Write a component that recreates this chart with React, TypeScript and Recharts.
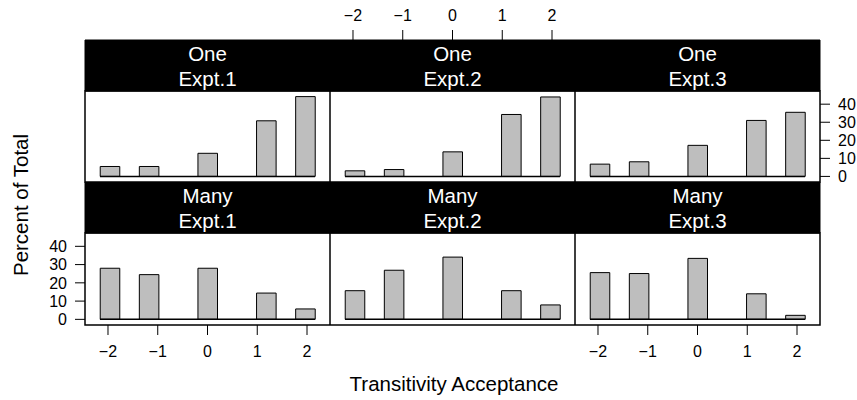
import { BarChart, Bar, XAxis, YAxis, ReferenceArea, ReferenceLine } from "recharts";

// response levels and the histogram bin each one falls in
const levels = [-2, -1, 0, 1, 2];
const binMids = [-1.964, -1.178, 0, 1.178, 1.964];
const binWidth = 0.393;
const binRange = [-2.16, 2.16];
const yTicks = [0, 10, 20, 30, 40];

const groups = ["One", "Many"];
const expts = ["Expt.1", "Expt.2", "Expt.3"];

// percent of total, per panel
const oneExpt1 = [5.5, 5.5, 12.8, 30.8, 44.2];
const oneExpt2 = [3.1, 3.8, 13.6, 34.3, 44.0];
const oneExpt3 = [6.8, 8.1, 17.2, 31.0, 35.5];
const manyExpt1 = [28.0, 24.5, 28.0, 14.4, 5.7];
const manyExpt2 = [15.7, 26.9, 34.1, 15.7, 7.9];
const manyExpt3 = [25.6, 25.1, 33.4, 14.0, 2.2];

const panelValues = [
  [oneExpt1, oneExpt2, oneExpt3],
  [manyExpt1, manyExpt2, manyExpt3],
];

const FONT = '"Liberation Sans", Arial, Helvetica, sans-serif';
const X_LIM: [number, number] = [-2.462, 2.462];
const Y_LO = -3.09;
const Y_HI = 47.3;
const STRIP_H = 51;
const COL_X = [85, 330, 575];
const COL_W = 245;
const LEFT_AX = 85;
const RIGHT_AX = 37;

const fmt = (v: number) => (v < 0 ? "\u2212" + Math.abs(v) : String(v));

function StripText(props: any) {
  const { viewBox, lines } = props;
  const cx = viewBox.x + viewBox.width / 2;
  return (
    <text textAnchor="middle" fill="#fff" fontSize={20.5} fontFamily={FONT}>
      <tspan x={cx} y={viewBox.y + 20.5}>{lines[0]}</tspan>
      <tspan x={cx} y={viewBox.y + 46}>{lines[1]}</tspan>
    </text>
  );
}

function Panel({ row, col }: { row: number; col: number }) {
  const top = row === 0;
  const panelH = top ? 91 : 92;
  const perPx = (Y_HI - Y_LO) / panelH;
  const stripTop = Y_HI + STRIP_H * perPx;
  const xAxisH = top ? 40 : 75;
  const extraBottom = top ? 10 : 0; // room for the right-hand "0" label
  const leftW = col === 0 ? LEFT_AX : 0;
  const rightW = col === 2 ? RIGHT_AX : 0;
  const width = leftW + COL_W + rightW;
  const height = xAxisH + STRIP_H + panelH + extraBottom;
  const showX = top ? col === 1 : col !== 1;
  const showY = top ? col === 2 : col === 0;
  const barPx = (binWidth * COL_W) / (X_LIM[1] - X_LIM[0]);
  const data = binMids.map((x, i) => ({ x, pct: panelValues[row][col][i] }));
  const tickStyle = { fill: "#000", fontSize: 16, fontFamily: FONT };

  return (
    <div style={{ position: "absolute", left: COL_X[col] - leftW, top: top ? 0 : 182 }}>
      <BarChart
        width={width}
        height={height}
        data={data}
        margin={{ top: 0, right: 0, bottom: extraBottom, left: 0 }}
      >
        <XAxis
          type="number"
          dataKey="x"
          orientation={top ? "top" : "bottom"}
          height={xAxisH}
          domain={X_LIM}
          allowDataOverflow
          ticks={levels}
          interval={0}
          tickSize={10}
          tickMargin={top ? 9 : 11}
          axisLine={false}
          stroke="#000"
          tickLine={{ stroke: "#000" }}
          tick={showX ? tickStyle : false}
          tickFormatter={fmt}
        />
        <YAxis
          type="number"
          domain={[Y_LO, stripTop]}
          allowDataOverflow
          ticks={yTicks}
          interval={0}
          hide={col === 1}
          orientation={col === 2 ? "right" : "left"}
          width={col === 0 ? LEFT_AX : RIGHT_AX}
          tickSize={10}
          tickMargin={8}
          axisLine={false}
          stroke="#000"
          tickLine={{ stroke: "#000" }}
          tick={showY ? tickStyle : false}
        />
        <ReferenceArea
          x1={X_LIM[0]}
          x2={X_LIM[1]}
          y1={Y_HI}
          y2={stripTop}
          fill="#000"
          fillOpacity={1}
          stroke="#000"
          ifOverflow="visible"
          label={<StripText lines={[groups[row], expts[col]]} />}
        />
        <ReferenceArea
          x1={X_LIM[0]}
          x2={X_LIM[1]}
          y1={Y_LO}
          y2={Y_HI}
          fill="none"
          fillOpacity={0}
          stroke="#000"
          strokeWidth={1.5}
          ifOverflow="visible"
        />
        <ReferenceLine
          segment={[
            { x: binRange[0], y: 0 },
            { x: binRange[1], y: 0 },
          ]}
          stroke="#000"
          strokeWidth={1.5}
        />
        <Bar dataKey="pct" fill="#bebebe" stroke="#000" strokeWidth={1} barSize={barPx} isAnimationActive={false} />
      </BarChart>
    </div>
  );
}

export default function App() {
  return (
    <div style={{ position: "absolute", left: 0, top: 0, width: 857, height: 400, background: "#fff" }}>
      {[0, 1].map((r) => [0, 1, 2].map((c) => <Panel key={`${r}-${c}`} row={r} col={c} />))}
      <svg width={857} height={400} style={{ position: "absolute", left: 0, top: 0, pointerEvents: "none" }}>
        <text
          x={20}
          y={205}
          transform="rotate(-90 20 205)"
          textAnchor="middle"
          dominantBaseline="central"
          fontSize={20.5}
          fontFamily={FONT}
          fill="#000"
        >
          Percent of Total
        </text>
        <text x={454} y={391} textAnchor="middle" fontSize={20.5} fontFamily={FONT} fill="#000">
          Transitivity Acceptance
        </text>
      </svg>
    </div>
  );
}
